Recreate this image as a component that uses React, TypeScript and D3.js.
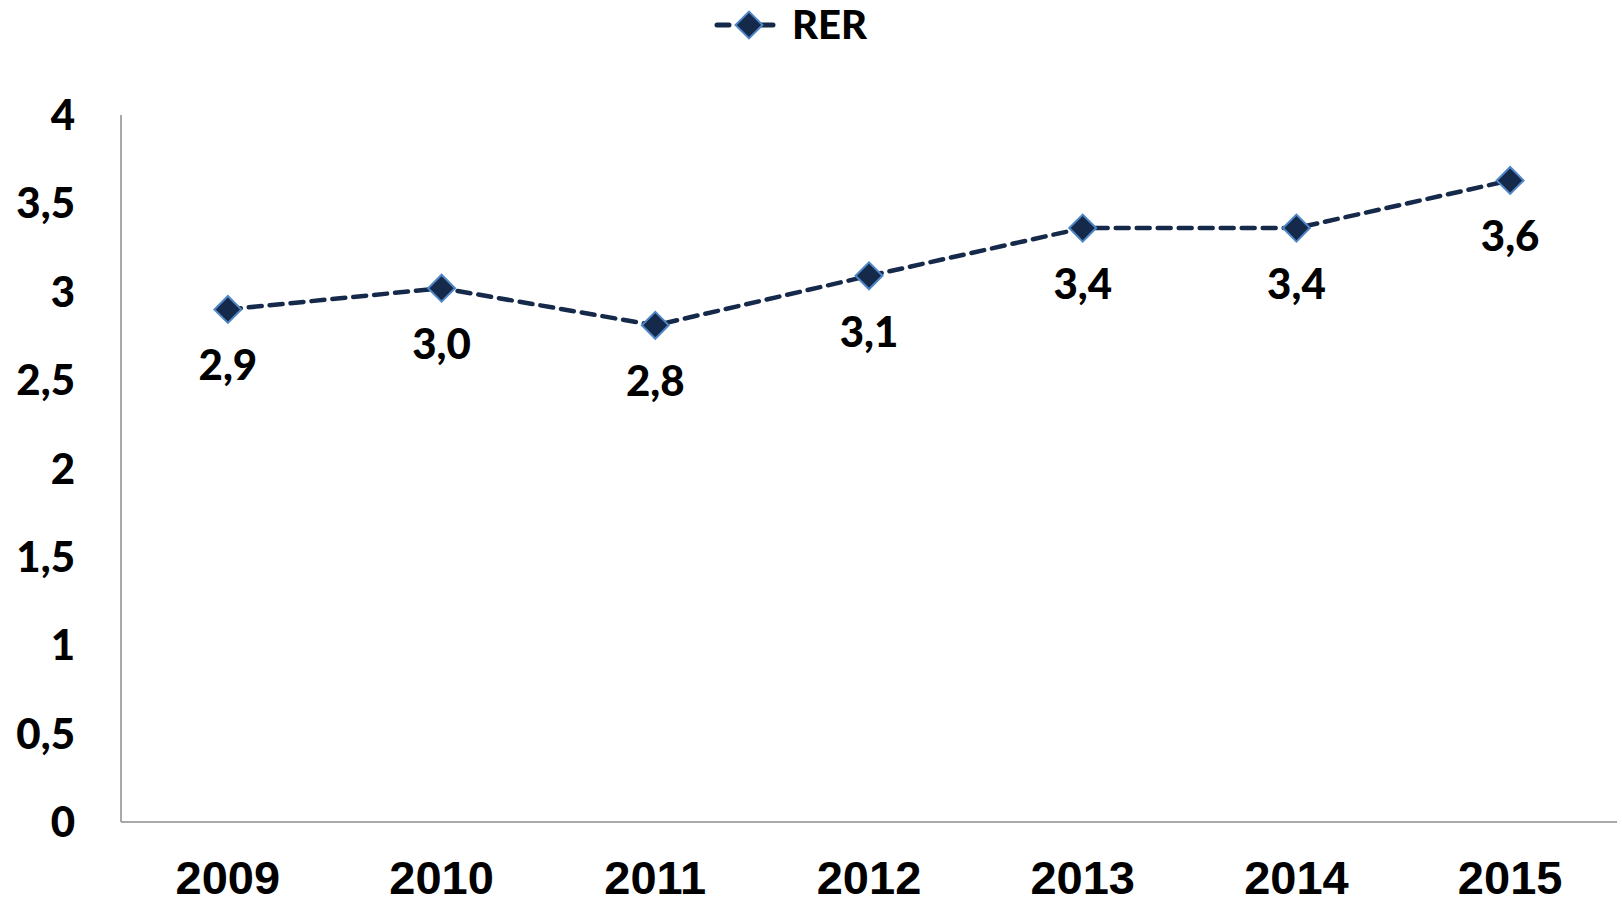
import React, { useEffect, useRef } from "react"
import * as d3 from "d3"

const years = ["2009", "2010", "2011", "2012", "2013", "2014", "2015"]
const rer = [2.9, 3.02, 2.81, 3.09, 3.36, 3.36, 3.63]
const labels = ["2,9", "3,0", "2,8", "3,1", "3,4", "3,4", "3,6"]
const yTicks = [0, 0.5, 1, 1.5, 2, 2.5, 3, 3.5, 4]
const seriesName = "RER"

const W = 1622
const H = 902
const margin = { top: 115, right: 5, bottom: 80, left: 121 }

const App = () => {
  const ref = useRef<SVGSVGElement>(null)

  useEffect(() => {
    const svg = d3.select(ref.current)
    svg.selectAll("*").remove()

    const x = d3
      .scaleBand()
      .domain(years)
      .range([margin.left, W - margin.right])
      .padding(0)
    const y = d3
      .scaleLinear()
      .domain([0, 4])
      .range([H - margin.bottom, margin.top])

    const navy = "#15294a"
    const edge = "#4f86c6"
    const calibri = "Lato, 'Open Sans', sans-serif"

    // axes
    svg
      .append("line")
      .attr("x1", margin.left)
      .attr("x2", margin.left)
      .attr("y1", y(4))
      .attr("y2", y(0))
      .attr("stroke", "#8c8c8c")
      .attr("stroke-width", 1.5)
    svg
      .append("line")
      .attr("x1", margin.left)
      .attr("x2", W - margin.right)
      .attr("y1", y(0))
      .attr("y2", y(0))
      .attr("stroke", "#8c8c8c")
      .attr("stroke-width", 1.5)

    svg
      .append("g")
      .selectAll("text")
      .data(yTicks)
      .join("text")
      .attr("x", 75)
      .attr("y", d => y(d))
      .attr("dy", "0.36em")
      .attr("text-anchor", "end")
      .attr("font-family", calibri)
      .attr("font-weight", 900)
      .attr("font-size", 42)
      .attr("fill", "#000")
      .text(d => String(d).replace(".", ","))

    svg
      .append("g")
      .selectAll("text")
      .data(years)
      .join("text")
      .attr("x", d => x(d)! + x.bandwidth() / 2)
      .attr("y", 894)
      .attr("text-anchor", "middle")
      .attr("font-family", "'Liberation Sans', Arial, sans-serif")
      .attr("font-weight", 700)
      .attr("font-size", 47)
      .attr("fill", "#000")
      .text(d => d)

    const cx = (i: number) => x(years[i])! + x.bandwidth() / 2

    const line = d3
      .line<number>()
      .x((_, i) => cx(i))
      .y(d => y(d))
    svg
      .append("path")
      .datum(rer)
      .attr("d", line)
      .attr("fill", "none")
      .attr("stroke", navy)
      .attr("stroke-width", 4.5)
      .attr("stroke-dasharray", "13 8")
      .attr("stroke-linecap", "round")

    const diamond = d3.symbol().type(d3.symbolSquare).size(19 * 19)()
    svg
      .append("g")
      .selectAll("path")
      .data(rer)
      .join("path")
      .attr("d", diamond)
      .attr("transform", (d, i) => `translate(${cx(i)},${y(d)}) rotate(45)`)
      .attr("fill", navy)
      .attr("stroke", edge)
      .attr("stroke-width", 2)

    svg
      .append("g")
      .selectAll("text")
      .data(rer)
      .join("text")
      .attr("x", (_, i) => cx(i))
      .attr("y", d => y(d) + 71)
      .attr("text-anchor", "middle")
      .attr("font-family", calibri)
      .attr("font-weight", 900)
      .attr("font-size", 42)
      .attr("fill", "#000")
      .text((_, i) => labels[i])

    // legend
    const lg = svg.append("g")
    lg.append("line")
      .attr("x1", 717)
      .attr("x2", 773)
      .attr("y1", 25)
      .attr("y2", 25)
      .attr("stroke", navy)
      .attr("stroke-width", 5)
      .attr("stroke-dasharray", "12 20 24")
      .attr("stroke-linecap", "round")
    lg.append("path")
      .attr("d", diamond)
      .attr("transform", "translate(749,25) rotate(45)")
      .attr("fill", navy)
      .attr("stroke", edge)
      .attr("stroke-width", 2)
    lg.append("text")
      .attr("x", 792)
      .attr("y", 39)
      .attr("font-family", calibri)
      .attr("font-weight", 900)
      .attr("font-size", 40)
      .attr("fill", "#000")
      .text(seriesName)
  }, [])

  return (
    <svg
      ref={ref}
      width={W}
      height={H}
      style={{ position: "absolute", left: 0, top: 0, background: "#fff" }}
    />
  )
}

export default App
